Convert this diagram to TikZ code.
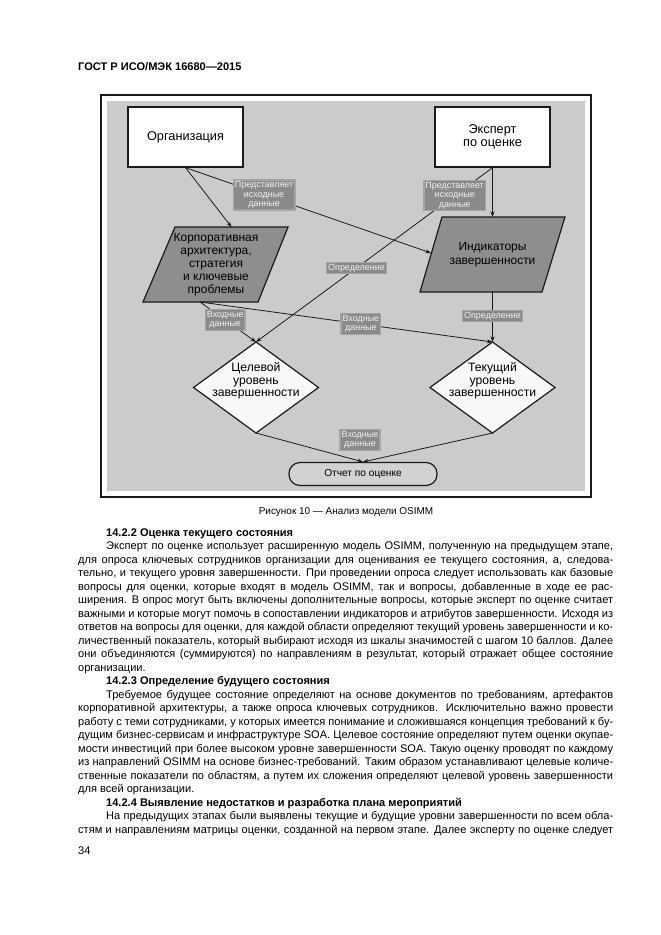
\documentclass[tikz,border=0pt]{standalone}
\usepackage{fontspec}
\setmainfont{Liberation Sans}
\usetikzlibrary{arrows.meta}
\definecolor{panel}{HTML}{CBCBCB}
\definecolor{dark}{HTML}{8E8E8E}
\definecolor{lblfill}{HTML}{8A8A8A}
\definecolor{lblhalo}{HTML}{A4A4A4}
\definecolor{lbltext}{HTML}{F2F2F2}
\definecolor{ink}{HTML}{1A1A1A}
\definecolor{repfill}{HTML}{D2D2D2}
\definecolor{dfill}{HTML}{F8F8F8}
\begin{document}
\begin{tikzpicture}[x=1bp,y=-1bp,
  arr/.style={draw=ink, line width=0.8bp, -{Stealth[length=5.5bp,width=4bp]}},
  wbox/.style={draw=ink, line width=1.3bp, fill=white, minimum width=115bp, minimum height=60bp, align=center, inner sep=0pt, font=\fontsize{12.8}{13.5}\selectfont},
  shp/.style={draw=ink, line width=1.2bp},
  ptxt/.style={align=center, inner sep=0pt, font=\fontsize{12}{13.2}\selectfont},
  dtxt/.style={align=center, inner sep=0pt, font=\fontsize{12.2}{12.5}\selectfont},
  lbl/.style={fill=lblfill, draw=lblhalo, line width=1.5bp, text=lbltext, align=center, inner sep=1.5bp, font=\fontsize{9}{9.6}\selectfont},
  body/.style={anchor=base west, inner sep=0pt, font=\fontsize{11.1}{13.5}\selectfont},
  bhead/.style={anchor=base west, inner sep=0pt, font=\bfseries\fontsize{11.1}{13.5}\selectfont}
]
\path[use as bounding box, fill=white] (0,0) rectangle (661,935);

% header
\node[bhead] (hdr) at (78,70) {ГОСТ Р ИСО/МЭК 16680—2015};

% frame and panel
\draw[line width=1.6bp, draw=ink, fill=white] (101,95) rectangle (591,497);
\fill[panel] (107,101) rectangle (586,492);
\draw[white, line width=1bp] (585,102) -- (585,491) -- (108,491);

% top boxes
\node[wbox] (org) at (185.5,137) {Организация};
\node[wbox] (exp) at (492.5,137) {Эксперт\\по оценке};

% left parallelogram
\draw[shp, fill=dark] (175,227) -- (288,227) -- (258,302) -- (143,302) -- cycle;
\node[ptxt] (corp) at (216,264.5) {Корпоративная\\архитектура,\\стратегия\\и ключевые\\проблемы};
\coordinate (corpT) at (231.5,227);
\coordinate (corpB) at (200,302);

% right parallelogram
\draw[shp, fill=dark] (442,217) -- (565,217) -- (542,292) -- (420,292) -- cycle;
\node[ptxt, font=\fontsize{12}{14.5}\selectfont] (ind) at (492.5,254.5) {Индикаторы\\завершенности};
\coordinate (indT) at (492.5,217);
\coordinate (indB) at (492.5,292);
\coordinate (indL) at (431,253);

% diamonds
\draw[shp, fill=dfill] (256,342) -- (318.5,387.5) -- (256,433) -- (193.5,387.5) -- cycle;
\node[dtxt] (tgt) at (256,381) {Целевой\\уровень\\завершенности};
\coordinate (tgtT) at (256,342);
\coordinate (tgtB) at (256,433);

\draw[shp, fill=dfill] (492.5,342) -- (555,387.5) -- (492.5,433) -- (430,387.5) -- cycle;
\node[dtxt] (cur) at (492.5,381) {Текущий\\уровень\\завершенности};
\coordinate (curT) at (492.5,342);
\coordinate (curB) at (492.5,433);

% report
\node[draw=ink, line width=1.2bp, fill=repfill, rounded corners=11bp, minimum width=148bp, minimum height=23bp, inner sep=0pt, font=\fontsize{10.2}{12}\selectfont] (rep) at (363,474) {Отчет по оценке};

% connectors
\draw[arr] (org.south) -- (corpT);
\draw[arr] (org.south) -- node[lbl, pos=0.32] (l1) {Представляет\\исходные\\данные} (indL);
\draw[arr] (exp.south) -- (indT);
\draw[arr] (exp.south) -- node[lbl, pos=0.16] (l2) {Представляет\\исходные\\данные} node[lbl, pos=0.575] (l3) {Определение} (tgtT);
\draw[arr] (corpB) -- node[lbl, pos=0.45] (l4) {Входные\\данные} (tgtT);
\draw[arr] (corpB) -- node[lbl, pos=0.55] (l5) {Входные\\данные} (curT);
\draw[arr] (indB) -- node[lbl, pos=0.48] (l6) {Определение} (curT);
\draw[arr] (tgtB) -- (rep.north);
\draw[arr] (curB) -- (rep.north);
\node[lbl] (l7) at (360,440) {Входные\\данные};

% caption
\node[anchor=base, inner sep=0pt, font=\fontsize{10}{12}\selectfont] (cap) at (346,514) {Рисунок 10 — Анализ модели OSIMM};

% body text
\node[bhead] (h1) at (106,536) {14.2.2 Оценка текущего состояния};
\node[body] (t1) at (106,549.5) {\makebox[507bp][s]{Эксперт по оценке использует расширенную модель OSIMM, полученную на предыдущем этапе,}};
\node[body] (t2) at (78,563) {\makebox[535bp][s]{для опроса ключевых сотрудников организации для оценивания ее текущего состояния, а, следова-}};
\node[body] (t3) at (78,576.5) {\makebox[535bp][s]{тельно, и текущего уровня завершенности. При проведении опроса следует использовать как базовые}};
\node[body] (t4) at (78,590) {\makebox[535bp][s]{вопросы для оценки, которые входят в модель OSIMM, так и вопросы, добавленные в ходе ее рас-}};
\node[body] (t5) at (78,603.5) {\makebox[535bp][s]{ширения. В опрос могут быть включены дополнительные вопросы, которые эксперт по оценке считает}};
\node[body] (t6) at (78,617) {\makebox[535bp][s]{важными и которые могут помочь в сопоставлении индикаторов и атрибутов завершенности. Исходя из}};
\node[body] (t7) at (78,630.5) {\makebox[535bp][s]{ответов на вопросы для оценки, для каждой области определяют текущий уровень завершенности и ко-}};
\node[body] (t8) at (78,644) {\makebox[535bp][s]{личественный показатель, который выбирают исходя из шкалы значимостей с шагом 10 баллов. Далее}};
\node[body] (t9) at (78,657.5) {\makebox[535bp][s]{они объединяются (суммируются) по направлениям в результат, который отражает общее состояние}};
\node[body] (t10) at (78,671) {организации.};
\node[bhead] (h2) at (106,684.5) {14.2.3 Определение будущего состояния};
\node[body] (t11) at (106,698) {\makebox[507bp][s]{Требуемое будущее состояние определяют на основе документов по требованиям, артефактов}};
\node[body] (t12) at (78,711.5) {\makebox[535bp][s]{корпоративной архитектуры, а также опроса ключевых сотрудников. Исключительно важно провести}};
\node[body] (t13) at (78,725) {\makebox[535bp][s]{работу с теми сотрудниками, у которых имеется понимание и сложившаяся концепция требований к бу-}};
\node[body] (t14) at (78,738.5) {\makebox[535bp][s]{дущим бизнес-сервисам и инфраструктуре SOA. Целевое состояние определяют путем оценки окупае-}};
\node[body] (t15) at (78,752) {\makebox[535bp][s]{мости инвестиций при более высоком уровне завершенности SOA. Такую оценку проводят по каждому}};
\node[body] (t16) at (78,765.5) {\makebox[535bp][s]{из направлений OSIMM на основе бизнес-требований. Таким образом устанавливают целевые количе-}};
\node[body] (t17) at (78,779) {\makebox[535bp][s]{ственные показатели по областям, а путем их сложения определяют целевой уровень завершенности}};
\node[body] (t18) at (78,792.5) {для всей организации.};
\node[bhead] (h3) at (106,806) {14.2.4 Выявление недостатков и разработка плана мероприятий};
\node[body] (t19) at (106,819.5) {\makebox[507bp][s]{На предыдущих этапах были выявлены текущие и будущие уровни завершенности по всем обла-}};
\node[body] (t20) at (78,833) {\makebox[535bp][s]{стям и направлениям матрицы оценки, созданной на первом этапе. Далее эксперту по оценке следует}};
\node[body] (pg) at (78,854) {34};
\end{tikzpicture}
\end{document}
